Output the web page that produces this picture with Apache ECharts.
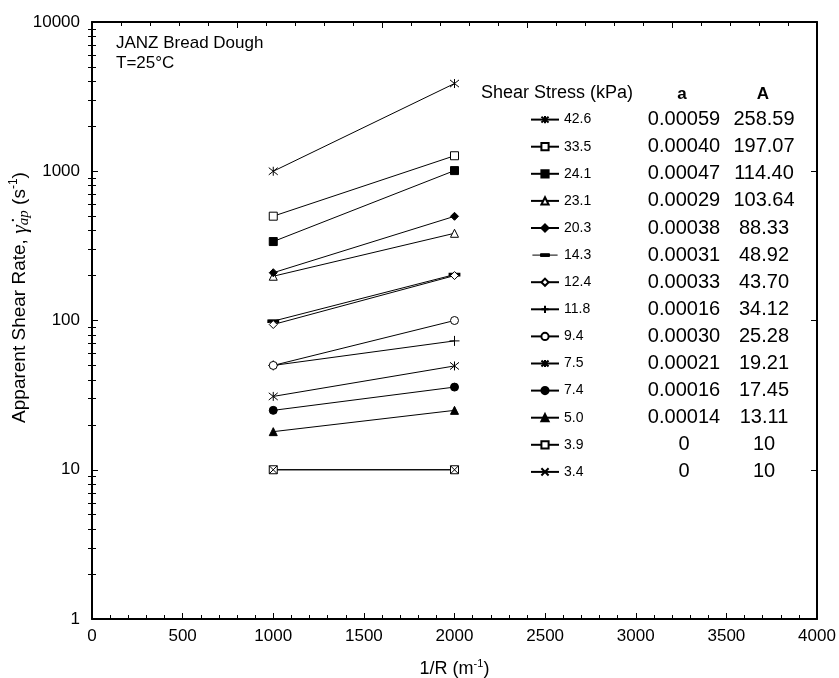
<!DOCTYPE html>
<html>
<head>
<meta charset="utf-8">
<script src="https://cdn.jsdelivr.net/npm/echarts@6/dist/echarts.min.js"></script>
<style>html,body{margin:0;padding:0;background:#fff;}#c{width:839px;height:678px;}</style>
</head>
<body>
<div id="c"></div>
<script>
// ---- data ----
var xValues = [1000, 2000];
var stressLabels = ['42.6','33.5','24.1','23.1','20.3','14.3','12.4','11.8','9.4','7.5','7.4','5.0','3.9','3.4'];
var yAt1000 = [1000, 500, 338, 198, 209, 99, 94, 50, 50, 31, 25, 18, 10, 10];
var yAt2000 = [3870, 1270, 1010, 384, 499, 203, 200, 73, 100, 49.6, 35.8, 25, 10, 10];
var aValues = ['0.00059','0.00040','0.00047','0.00029','0.00038','0.00031','0.00033','0.00016','0.00030','0.00021','0.00016','0.00014','0','0'];
var AValues = ['258.59','197.07','114.40','103.64','88.33','48.92','43.70','34.12','25.28','19.21','17.45','13.11','10','10'];
var xTickLabels = ['0','500','1000','1500','2000','2500','3000','3500','4000'];
var yTickLabels = ['1','10','100','1000','10000'];

// ---- marker styles ----
var P_AST = 'path://M5,0L5,10M1,1L9,9M9,1L1,9';
var P_X = 'path://M1,1L9,9M9,1L1,9';
var P_PLUS = 'path://M0,5L10,5M5,0L5,10';
var P_DASH_ICON = 'path://M0,0L0,0.01M28,9.99L28,10M0,5L28,5M9,3.5L19,3.5L19,6.5L9,6.5Z';
var markers = [
  {s: P_AST, open: true, size: 9},
  {s: 'rect', open: true, size: 8},
  {s: 'rect', open: false, size: 8},
  {s: 'triangle', open: true, size: 8},
  {s: 'diamond', open: false, size: 8},
  {s: 'rect', open: false, size: [10, 3], icon: P_DASH_ICON},
  {s: 'diamond', open: true, size: 8},
  {s: P_PLUS, open: true, size: 10},
  {s: 'circle', open: true, size: 8},
  {s: P_AST, open: true, size: 9},
  {s: 'circle', open: false, size: 8},
  {s: 'triangle', open: false, size: 8},
  {s: 'rect', open: true, size: 8},
  {s: P_X, open: true, size: 8}
];

var FONT = '"Liberation Sans", Arial, Helvetica, sans-serif';
var SERIF = '"Liberation Serif", "DejaVu Serif", serif';

var series = stressLabels.map(function (name, i) {
  var m = markers[i];
  return {
    name: name,
    type: 'line',
    xAxisIndex: 0,
    yAxisIndex: 0,
    data: [[xValues[0], yAt1000[i]], [xValues[1], yAt2000[i]]],
    symbol: m.s,
    symbolSize: m.size,
    showAllSymbol: true,
    lineStyle: {color: '#000', width: 1},
    itemStyle: {color: m.open ? '#fff' : '#000', borderColor: '#000', borderWidth: 1},
    emphasis: {disabled: true},
    animation: false,
    z: 3
  };
});

var legendData = stressLabels.map(function (name, i) {
  var item = {name: name};
  if (markers[i].icon) {
    item.icon = markers[i].icon;
    item.itemStyle = {color: '#000', borderColor: '#000', borderWidth: 1};
  }
  return item;
});

var minorVals = [];
for (var d = 1; d < 10000; d *= 10) {
  for (var k = 2; k <= 9; k++) minorVals.push(k * d);
}

function logAxis(pos, opt) {
  var base = {
    type: 'log', logBase: 10, min: 1, max: 10000, position: pos,
    axisLine: {show: false},
    axisTick: {show: false},
    axisLabel: {show: false},
    splitLine: {show: false}
  };
  for (var k in opt) base[k] = opt[k];
  return base;
}

var option = {
  backgroundColor: '#fff',
  animation: false,
  grid: {left: 92, right: 22, top: 22, bottom: 59, containLabel: false, outerBoundsMode: 'none'},
  xAxis: [
    {
      type: 'value', min: 0, max: 4000, interval: 500, position: 'bottom',
      name: '{t|1/R (m}{sup|-1}{t|)}', nameLocation: 'middle', nameGap: 39, nameMoveOverlap: false,
      nameTextStyle: {rich: {
        t: {fontFamily: FONT, fontSize: 18, color: '#000', lineHeight: 22},
        sup: {fontFamily: FONT, fontSize: 11, color: '#000', verticalAlign: 'top', lineHeight: 22}
      }},
      axisLine: {show: true, onZero: false, lineStyle: {color: '#000', width: 2}},
      axisTick: {show: true, inside: true, length: 6, lineStyle: {color: '#000', width: 1}},
      minorTick: {show: true, splitNumber: 5, length: 4, lineStyle: {color: '#000', width: 1}},
      axisLabel: {show: true, fontFamily: FONT, fontSize: 17, color: '#000', margin: 9,
        formatter: function (v) { var i = Math.round(v / 500); return xTickLabels[i] !== undefined ? xTickLabels[i] : ''; }},
      splitLine: {show: false}
    },
    {
      type: 'value', min: 0, max: 4000, interval: 800, position: 'top',
      axisLine: {show: true, onZero: false, lineStyle: {color: '#000', width: 2}},
      axisTick: {show: true, inside: true, length: 6, lineStyle: {color: '#000', width: 1}},
      minorTick: {show: true, splitNumber: 5, length: 4, lineStyle: {color: '#000', width: 1}},
      axisLabel: {show: false},
      splitLine: {show: false}
    }
  ],
  yAxis: [
    logAxis('left', {
      axisLine: {show: true, onZero: false, lineStyle: {color: '#000', width: 2}},
      axisTick: {show: true, inside: true, length: 6, lineStyle: {color: '#000', width: 1}},
      axisLabel: {show: true, fontFamily: FONT, fontSize: 17, color: '#000', margin: 12,
        formatter: function (v) { var i = Math.round(Math.log10(v)); return yTickLabels[i] !== undefined ? yTickLabels[i] : ''; }},
      name: '{t|Apparent Shear Rate, }{g|γ̇}{sub|ap}{t| (s}{sup|-1}{t|)}',
      nameLocation: 'middle', nameGap: 60, nameRotate: 90, nameMoveOverlap: false,
      nameTextStyle: {padding: [0, 0, 0, 46], rich: {
        t: {fontFamily: FONT, fontSize: 19, color: '#000', lineHeight: 24},
        g: {fontFamily: SERIF, fontStyle: 'italic', fontSize: 22, color: '#000', lineHeight: 24},
        sub: {fontFamily: SERIF, fontStyle: 'italic', fontSize: 15, color: '#000', verticalAlign: 'bottom', lineHeight: 24},
        sup: {fontFamily: FONT, fontSize: 12, color: '#000', verticalAlign: 'top', lineHeight: 24}
      }}
    }),
    logAxis('left', {
      axisTick: {show: true, inside: true, length: 4, customValues: minorVals, lineStyle: {color: '#000', width: 1}}
    }),
    logAxis('right', {
      axisLine: {show: true, onZero: false, lineStyle: {color: '#000', width: 2}},
      axisTick: {show: true, inside: true, length: 6, lineStyle: {color: '#000', width: 1}}
    }),
    logAxis('right', {
      axisTick: {show: true, inside: true, length: 4, customValues: minorVals, lineStyle: {color: '#000', width: 1}}
    })
  ],
  legend: {
    show: true,
    orient: 'vertical',
    left: 525,
    top: 104.6,
    padding: 5,
    itemWidth: 28,
    itemHeight: 9,
    itemGap: 7.1,
    selectedMode: false,
    data: legendData,
    formatter: function (name) {
      var i = stressLabels.indexOf(name);
      return '{n|' + name + '}{a|' + aValues[i] + '}{A|' + AValues[i] + '}';
    },
    textStyle: {
      color: '#000',
      rich: {
        n: {fontFamily: FONT, fontSize: 14, color: '#000', width: 75, lineHeight: 20},
        a: {fontFamily: FONT, fontSize: 20, color: '#000', width: 90, align: 'center', lineHeight: 20},
        A: {fontFamily: FONT, fontSize: 20, color: '#000', width: 70, align: 'center', lineHeight: 20}
      }
    }
  },
  graphic: [
    {type: 'text', left: 116, top: 35, style: {text: 'JANZ Bread Dough', font: '17px ' + FONT, fill: '#000'}},
    {type: 'text', left: 116, top: 55, style: {text: 'T=25°C', font: '17px ' + FONT, fill: '#000'}},
    {type: 'text', left: 481, top: 84, style: {text: 'Shear Stress (kPa)', font: '18px ' + FONT, fill: '#000'}},
    {type: 'text', x: 682, y: 94, style: {text: 'a', font: 'bold 17px ' + FONT, fill: '#000', align: 'center', verticalAlign: 'middle'}},
    {type: 'text', x: 763, y: 94, style: {text: 'A', font: 'bold 17px ' + FONT, fill: '#000', align: 'center', verticalAlign: 'middle'}}
  ],
  series: series
};

var chart = echarts.init(document.getElementById('c'), null, {renderer: 'canvas'});
chart.setOption(option);
</script>
</body>
</html>
